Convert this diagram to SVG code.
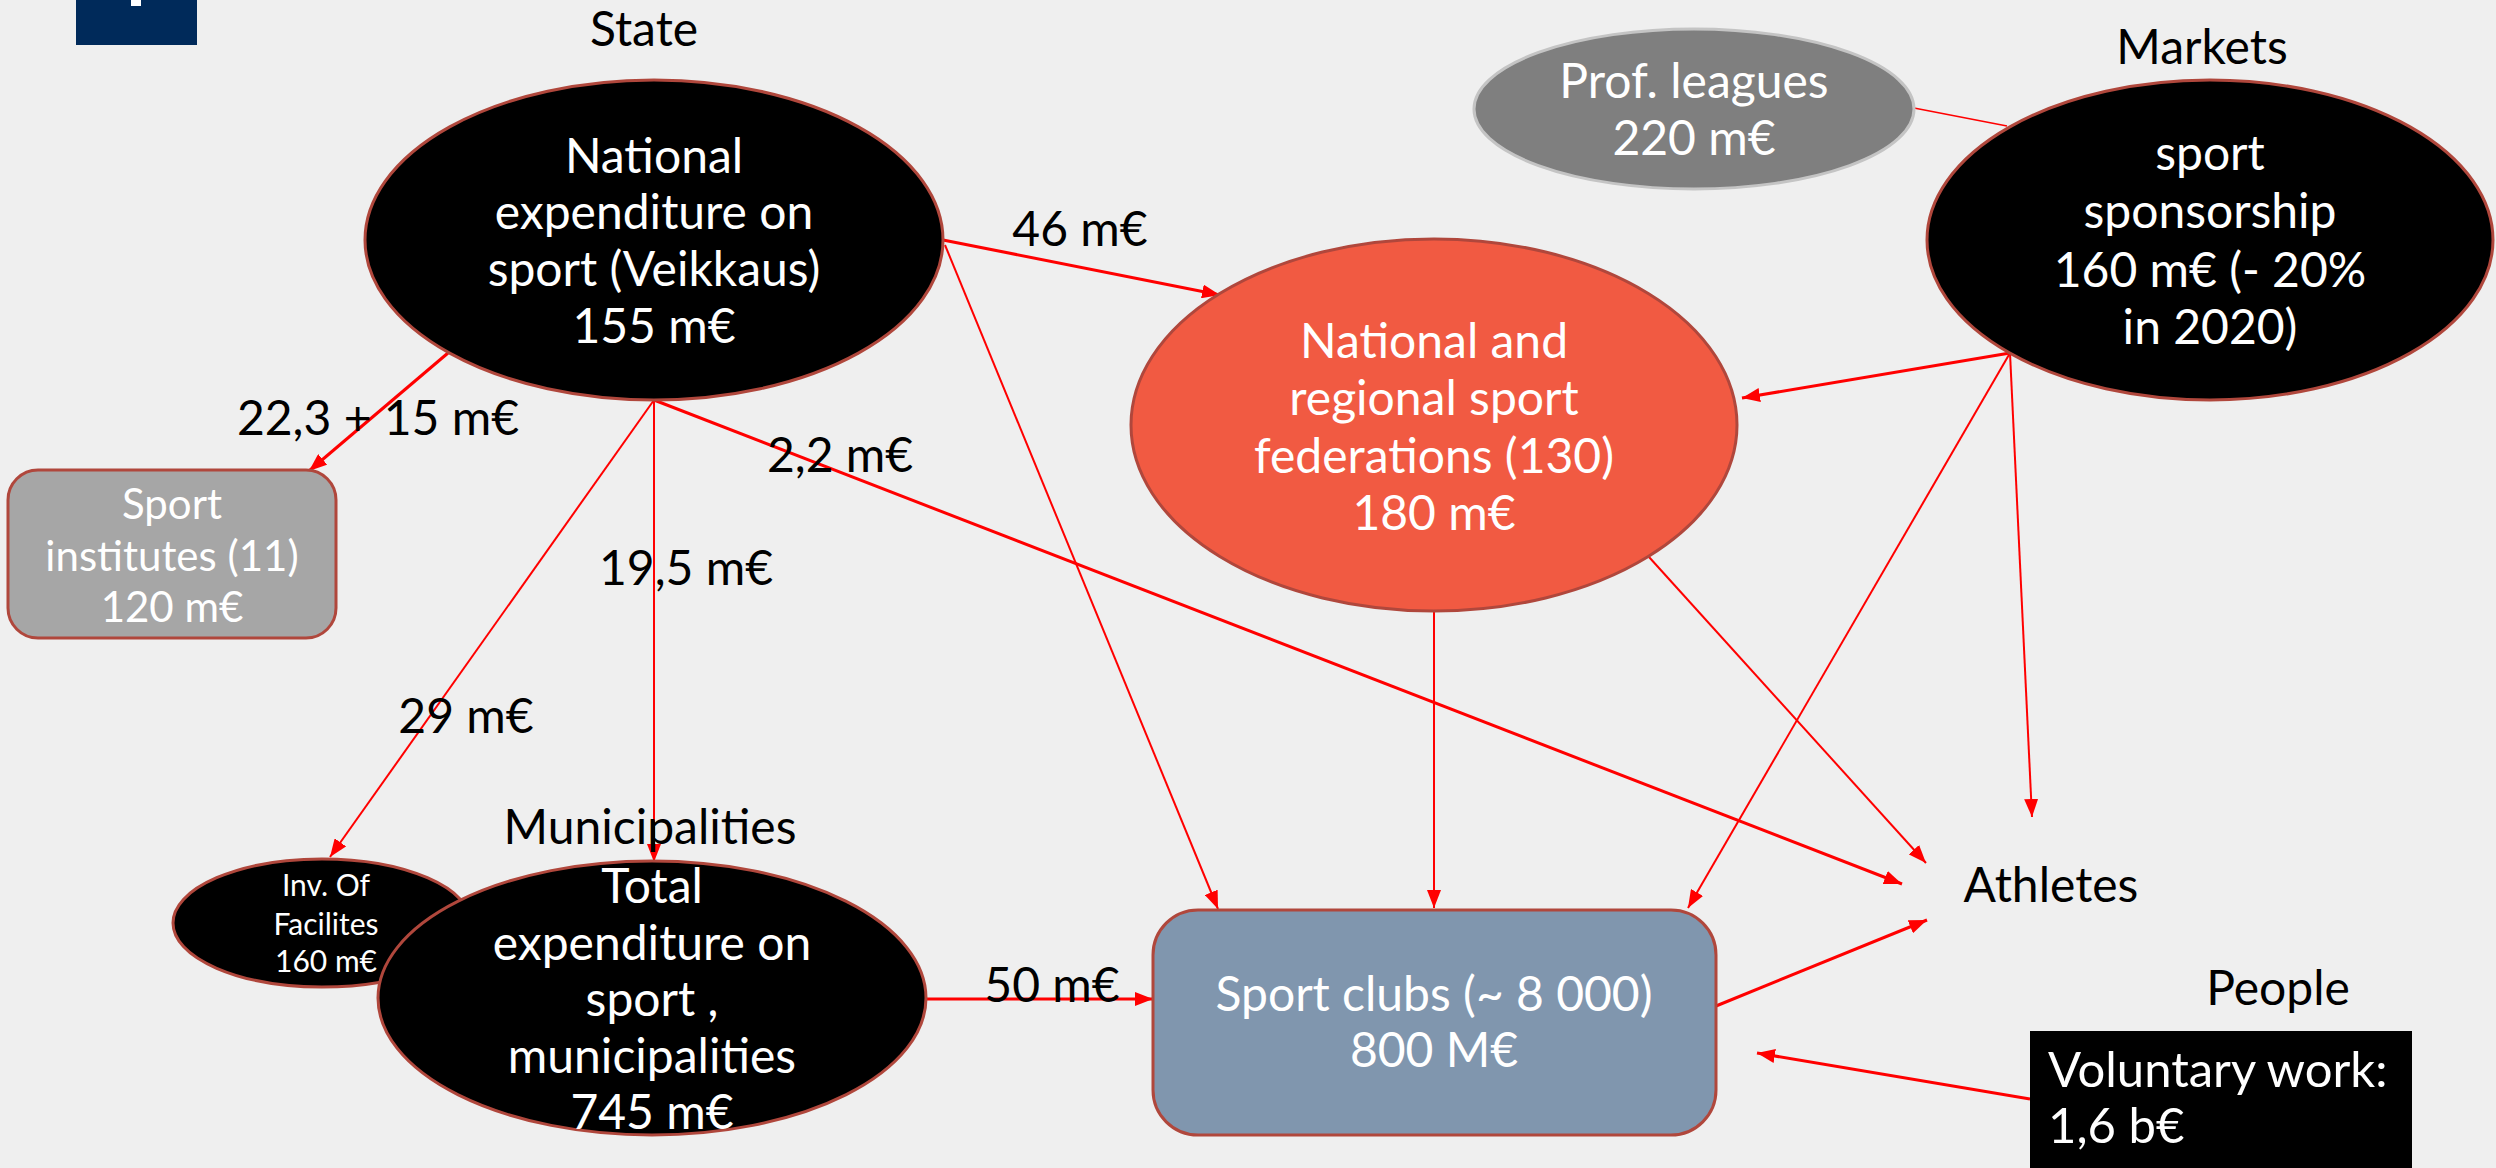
<svg xmlns="http://www.w3.org/2000/svg" width="2496" height="1168" viewBox="0 0 2496 1168">
<style>
text{font-family:Lato,"Liberation Sans",sans-serif;font-size:48px;text-anchor:middle}
.w{fill:#ffffff}
.k{fill:#000000}
.c{stroke:#ff0000;fill:none;stroke-width:2}
.t{stroke-width:3}
.nb{stroke:#b0473c;stroke-width:3}
</style>
<defs>
<marker id="ah" markerUnits="userSpaceOnUse" markerWidth="18" markerHeight="14" refX="18" refY="7" orient="auto">
<path d="M0,0 L18,7 L0,14 z" fill="#ff0000"/>
</marker>
</defs>
<rect width="2496" height="1168" fill="#efefef"/>
<g id="logo">
<rect x="76" y="0" width="121" height="45" fill="#002a5a"/>
<rect x="131" y="0" width="10" height="6" fill="#ffffff"/>
</g>
<g id="connectors">
<line class="c t" x1="448" y1="353" x2="309" y2="471" marker-end="url(#ah)"/>
<line class="c t" x1="943" y1="240" x2="1220" y2="295" marker-end="url(#ah)"/>
<line class="c" x1="945" y1="245" x2="1218" y2="909" marker-end="url(#ah)"/>
<line class="c" x1="654" y1="400" x2="330" y2="857" marker-end="url(#ah)"/>
<line class="c" x1="654" y1="400" x2="654" y2="862" marker-end="url(#ah)"/>
<line class="c t" x1="654" y1="400" x2="1902" y2="884" marker-end="url(#ah)"/>
<line class="c" x1="1434" y1="611" x2="1434" y2="908" marker-end="url(#ah)"/>
<line class="c" x1="1649" y1="557" x2="1926" y2="863" marker-end="url(#ah)"/>
<line class="c t" x1="2010" y1="353" x2="1742" y2="398" marker-end="url(#ah)"/>
<line class="c" x1="2010" y1="353" x2="1688" y2="908" marker-end="url(#ah)"/>
<line class="c" x1="2010" y1="353" x2="2032" y2="817" marker-end="url(#ah)"/>
<line class="c" style="stroke-width:1.5" x1="1914" y1="108" x2="2007" y2="126"/>
<line class="c t" x1="926" y1="999" x2="1153" y2="999" marker-end="url(#ah)"/>
<line class="c t" x1="1716" y1="1006" x2="1927" y2="920" marker-end="url(#ah)"/>
<line class="c t" x1="2030" y1="1099" x2="1757" y2="1053" marker-end="url(#ah)"/>
</g>
<g id="labels">
<text x="378" y="435" class="k">22,3 + 15 m€</text>
<text x="1080" y="246" class="k">46 m€</text>
<text x="466" y="733" class="k">29 m€</text>
<text x="686" y="585" class="k">19,5 m€</text>
<text x="840" y="472" class="k">2,2 m€</text>
<text x="1052" y="1002" class="k">50 m€</text>
</g>
<g id="state">
<text x="644" y="46" class="k">State</text>
<ellipse cx="654" cy="240" rx="289" ry="160" fill="#000000" class="nb"/>
<text class="w" x="654" y="173">National</text>
<text class="w" x="654" y="229">expenditure on</text>
<text class="w" x="654" y="286">sport (Veikkaus)</text>
<text class="w" x="654" y="343">155 m€</text>
</g>
<g id="prof-leagues">
<ellipse cx="1694" cy="109" rx="220" ry="80" fill="#7f7f7f" stroke="#c4c4c4" stroke-width="3"/>
<text class="w" x="1694" y="98">Prof. leagues</text>
<text class="w" x="1694" y="155">220 m€</text>
</g>
<g id="markets">
<text x="2202" y="64" class="k">Markets</text>
<ellipse cx="2210" cy="240" rx="283" ry="160" fill="#000000" class="nb"/>
<text class="w" x="2210" y="170">sport</text>
<text class="w" x="2210" y="228">sponsorship</text>
<text class="w" x="2210" y="287">160 m€ (- 20%</text>
<text class="w" x="2210" y="344">in 2020)</text>
</g>
<g id="federations">
<ellipse cx="1434" cy="425" rx="303" ry="186" fill="#f15a42" class="nb"/>
<text class="w" x="1434" y="358">National and</text>
<text class="w" x="1434" y="415">regional sport</text>
<text class="w" x="1434" y="473">federations (130)</text>
<text class="w" x="1434" y="530">180 m€</text>
</g>
<g id="sport-institutes">
<rect x="8" y="470" width="328" height="168" rx="30" fill="#a6a6a6" class="nb"/>
<text class="w" x="172" y="519" style="font-size:42px">Sport</text>
<text class="w" x="172" y="571" style="font-size:42px">institutes (11)</text>
<text class="w" x="172" y="622" style="font-size:42px">120 m€</text>
</g>
<g id="facilities">
<ellipse cx="322" cy="923" rx="149" ry="64" fill="#000000" class="nb"/>
<text class="w" x="326" y="896" style="font-size:30px">Inv. Of</text>
<text class="w" x="326" y="935" style="font-size:30px">Facilites</text>
<text class="w" x="326" y="972" style="font-size:30px">160 m€</text>
</g>
<g id="municipalities">
<text x="650" y="844" class="k">Municipalities</text>
<ellipse cx="652" cy="998" rx="274" ry="137" fill="#000000" class="nb"/>
<text class="w" x="652" y="903">Total</text>
<text class="w" x="652" y="960">expenditure on</text>
<text class="w" x="652" y="1016">sport ,</text>
<text class="w" x="652" y="1073">municipalities</text>
<text class="w" x="652" y="1129">745 m€</text>
</g>
<g id="sport-clubs">
<rect x="1153" y="910" width="563" height="225" rx="45" fill="#8096ae" class="nb"/>
<text class="w" x="1434" y="1011">Sport clubs (~ 8 000)</text>
<text class="w" x="1434" y="1067">800 M€</text>
</g>
<g id="athletes">
<text x="2051" y="902" class="k">Athletes</text>
</g>
<g id="people">
<text x="2278" y="1005" class="k">People</text>
<rect x="2030" y="1031" width="382" height="137" fill="#000000"/>
<text class="w" x="2048" y="1087" style="text-anchor:start;font-size:49px">Voluntary work:</text>
<text class="w" x="2048" y="1143" style="text-anchor:start;font-size:49px">1,6 b€</text>
</g>
</svg>
